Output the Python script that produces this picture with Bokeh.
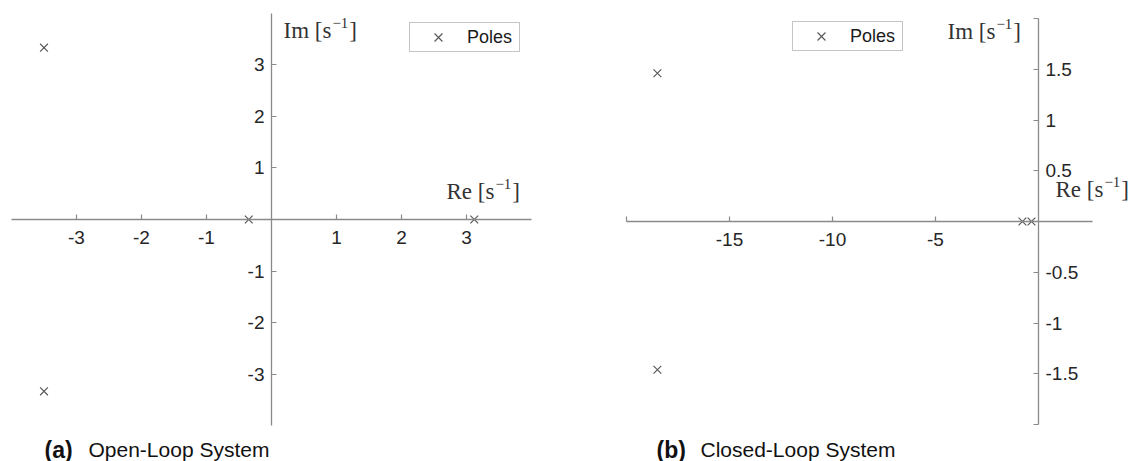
from bokeh.plotting import figure
from bokeh.models import LinearAxis, FixedTicker, Label, Legend, LegendItem, Range1d
from bokeh.layouts import row
from bokeh.embed import file_html
from bokeh.resources import INLINE

# ---------------- data ----------------
# (a) open-loop poles
ol_re = [-3.50, -3.50, -0.35, 3.12]
ol_im = [3.33, -3.33, 0.0, 0.0]
# (b) closed-loop poles
cl_re = [-18.5, -18.5, -0.78, -0.34]
cl_im = [1.46, -1.46, 0.0, 0.0]

ol_xticks = [-3, -2, -1, 1, 2, 3]
ol_yticks = [-3, -2, -1, 1, 2, 3]
cl_xticks = [-20, -15, -10, -5]
cl_yticks = [-2, -1.5, -1, -0.5, 0.5, 1, 1.5, 2]
cl_unlabeled = [-20, -2, 2]

legend_label = "Poles"
axis_names = ["Re", "Im"]
unit_base = " [s"
unit_sup = "\u22121"
unit_end = "]"
captions = [("(a)", "Open-Loop System"), ("(b)", "Closed-Loop System")]

# ---------------- style ----------------
AX_COLOR = "#8a8a8a"
TICK_TXT = "#262626"
MARK_COLOR = "#5a5a5a"
SANS = "Liberation Sans"
SERIF = "Liberation Serif"
H = 461
LBL_SIZE = 23          # px, axis-name font
SUP_SIZE = 15          # px, superscript font
BASE_SHIFT = 10        # renderer draws alphabetic baseline ~10px low


def make_fig(width, x0_px, xscale, y0_px, yscale):
    xr = Range1d(-x0_px / xscale, (width - x0_px) / xscale)
    yr = Range1d(-(H - y0_px) / yscale, y0_px / yscale)
    p = figure(width=width, height=H, x_range=xr, y_range=yr,
               x_axis_type=None, y_axis_type=None,
               output_backend="svg", toolbar_location=None,
               min_border=0, outline_line_color=None,
               background_fill_color="white", border_fill_color="white")
    fx = lambda px: (px - x0_px) / xscale
    fy = lambda py: (y0_px - (py - BASE_SHIFT)) / yscale
    return p, fx, fy


def tick_text(t, blank=()):
    return "" if t in blank else f"{t:g}"


def style_axis(ax, ticks, bounds, standoff, blank=()):
    ax.ticker = FixedTicker(ticks=ticks)
    ax.major_label_overrides = {t: tick_text(t, blank) for t in ticks}
    ax.fixed_location = 0
    ax.bounds = bounds
    ax.axis_line_color = AX_COLOR
    ax.axis_line_width = 1.3
    ax.major_tick_line_color = AX_COLOR
    ax.major_tick_line_width = 1.2
    ax.major_tick_in = 5
    ax.major_tick_out = 0
    ax.minor_tick_in = 0
    ax.minor_tick_out = 0
    ax.major_label_text_font = SANS
    ax.major_label_text_font_size = "19px"
    ax.major_label_text_color = TICK_TXT
    ax.major_label_standoff = standoff
    return ax


def add_poles(p, xs, ys, loc):
    r = p.scatter(xs, ys, marker="x", size=11, line_color=MARK_COLOR, line_width=1.2)
    leg = Legend(items=[LegendItem(label=legend_label, renderers=[r])],
                 location=loc, orientation="vertical",
                 border_line_color="#8a8a8a", border_line_width=1,
                 background_fill_color="white", background_fill_alpha=1.0,
                 label_text_font=SANS, label_text_font_size="18px",
                 label_text_color="#1a1a1a", padding=0, margin=0, spacing=0,
                 glyph_width=56, glyph_height=28, label_standoff=1,
                 label_height=28, label_width=52)
    p.add_layout(leg)
    return r


def add_label(p, x, y, text, font=SERIF, size="21px", color="#333333",
              style="normal", x_offset=0, y_offset=0):
    p.add_layout(Label(x=x, y=y, text=text, text_font=font, text_font_size=size,
                       text_color=color, text_font_style=style,
                       x_offset=x_offset, y_offset=y_offset,
                       text_align="left", text_baseline="alphabetic"))


def add_axis_name(p, x, y, name):
    # "Name [s" + superscript "-1" + "]"  (Times metrics: Im/Re [s = 2.083 em)
    base_w = 2.083 * LBL_SIZE
    sup_w = 1.064 * SUP_SIZE
    add_label(p, x, y, name + unit_base, size=f"{LBL_SIZE}px")
    add_label(p, x, y, unit_sup, size=f"{SUP_SIZE}px", x_offset=base_w + 1, y_offset=8)
    add_label(p, x, y, unit_end, size=f"{LBL_SIZE}px", x_offset=base_w + sup_w + 2)


# ---------------- (a) open loop ----------------
W1 = 565
p1, fx1, fy1 = make_fig(W1, 271, 65.0, 219, 51.6)
p1.add_layout(style_axis(LinearAxis(), ol_xticks, (-4, 4), 11), "below")
p1.add_layout(style_axis(LinearAxis(), ol_yticks, (-4, 4), 7), "left")
add_poles(p1, ol_re, ol_im, (409, H - 52))
add_axis_name(p1, fx1(283), fy1(40), axis_names[1])
add_axis_name(p1, fx1(446), fy1(201), axis_names[0])
add_label(p1, fx1(44), fy1(459), captions[0][0], font=SANS, size="23px", color="#111111", style="bold")
add_label(p1, fx1(88), fy1(459), captions[0][1], font=SANS, size="21px", color="#111111")

# ---------------- (b) closed loop ----------------
W2 = 1131 - W1
X0 = 565
p2, fx2, fy2 = make_fig(W2, 1038 - X0, 20.6, 221, 101.5)
p2.add_layout(style_axis(LinearAxis(), cl_xticks, (-20, 2.6), 11, cl_unlabeled), "below")
p2.add_layout(style_axis(LinearAxis(), cl_yticks, (-2, 2), 7, cl_unlabeled), "right")
add_poles(p2, cl_re, cl_im, (792 - X0, H - 51))
add_axis_name(p2, fx2(947 - X0), fy2(41), axis_names[1])
add_axis_name(p2, fx2(1055 - X0), fy2(199), axis_names[0])
add_label(p2, fx2(656 - X0), fy2(459), captions[1][0], font=SANS, size="23px", color="#111111", style="bold")
add_label(p2, fx2(700 - X0), fy2(459), captions[1][1], font=SANS, size="21px", color="#111111")

layout = row(p1, p2, spacing=0)
open("out.html", "w").write(file_html(layout, INLINE))
